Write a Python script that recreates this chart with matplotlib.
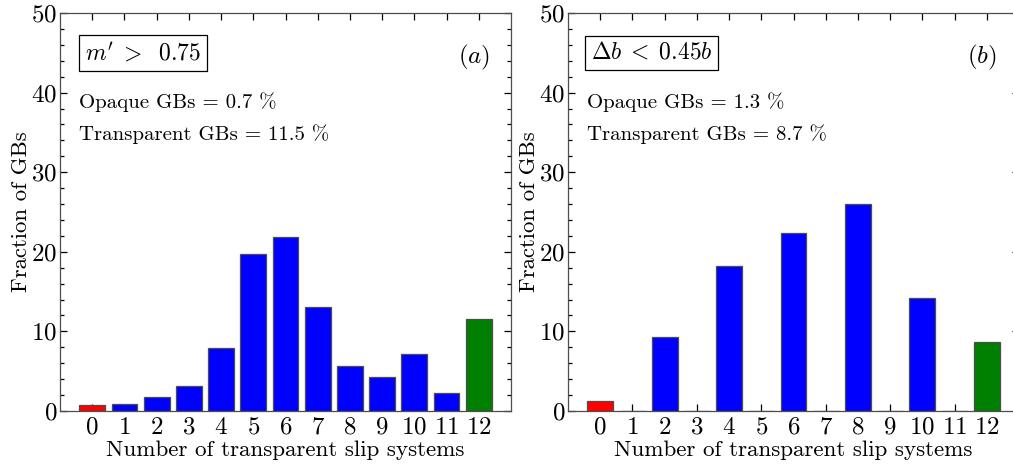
import matplotlib

matplotlib.use("Agg")
import matplotlib.pyplot as plt  # noqa: E402
from matplotlib.ticker import MultipleLocator  # noqa: E402

plt.rcParams["font.family"] = "serif"
plt.rcParams["font.serif"] = ["cmr10"]
plt.rcParams["mathtext.fontset"] = "cm"
plt.rcParams["axes.formatter.use_mathtext"] = True

# --- data --------------------------------------------------------------
n_slip = list(range(13))
frac_mprime = [0.7, 0.9, 1.7, 3.1, 7.9, 19.7, 21.9, 13.1, 5.7, 4.3, 7.1, 2.3, 11.5]
frac_db = [1.3, 0, 9.3, 0, 18.2, 0, 22.3, 0, 26.0, 0, 14.2, 0, 8.7]
crit_labels = [r"$m'\;>\;\ 0.75$", r"$\Delta b\;<\;0.45b$"]
panel_tags = [r"$(a)$", r"$(b)$"]
opaque_pct = [0.7, 1.3]
transp_pct = [11.5, 8.7]


def colors_for(n):
    return ["red" if k == 0 else ("green" if k == 12 else "blue") for k in n]


fig = plt.figure(figsize=(10.13, 4.66), dpi=100)
W, H = 1013, 466
axes = [fig.add_axes([60 / W, 55 / H, 451 / W, 398 / H]),
        fig.add_axes([568 / W, 55 / H, 451 / W, 398 / H])]

for ax, vals, crit, tag, op, tr in zip(axes, [frac_mprime, frac_db], crit_labels,
                                       panel_tags, opaque_pct, transp_pct):
    ax.bar(n_slip, vals, width=0.8, color=colors_for(n_slip),
           edgecolor="0.3", lw=0.9, zorder=2)
    ax.set_xlim(-1, 13)
    ax.set_ylim(0, 50)
    ax.set_xticks(n_slip)
    ax.yaxis.set_major_locator(MultipleLocator(10))
    ax.yaxis.set_minor_locator(MultipleLocator(2))
    ax.tick_params(which="both", direction="in", top=True, right=True,
                   labelsize=18, width=0.9)
    ax.tick_params(which="major", length=5, pad=4)
    ax.tick_params(axis="y", which="major", pad=2)
    ax.tick_params(which="minor", length=3)
    for s in ax.spines.values():
        s.set_linewidth(0.9)
        s.set_color("0.3")
    ax.set_xlabel("Number of transparent slip systems", fontsize=16.6, labelpad=1)
    ax.set_ylabel("Fraction of GBs", fontsize=16.4, labelpad=0.5)

    ax.text(0.185, 0.90, crit, transform=ax.transAxes, fontsize=17,
            ha="center", va="center",
            bbox=dict(boxstyle="square,pad=0.25", fc="white", ec="black", lw=0.9))
    ax.text(0.918, 0.889, tag, transform=ax.transAxes, fontsize=18,
            ha="center", va="center")
    ax.text(0.042, 0.761, f"Opaque GBs = {op} %", transform=ax.transAxes,
            fontsize=15, ha="left", va="baseline")
    ax.text(0.042, 0.681, f"Transparent GBs = {tr} %", transform=ax.transAxes,
            fontsize=15, ha="left", va="baseline")

fig.savefig("out.png", dpi=100)
